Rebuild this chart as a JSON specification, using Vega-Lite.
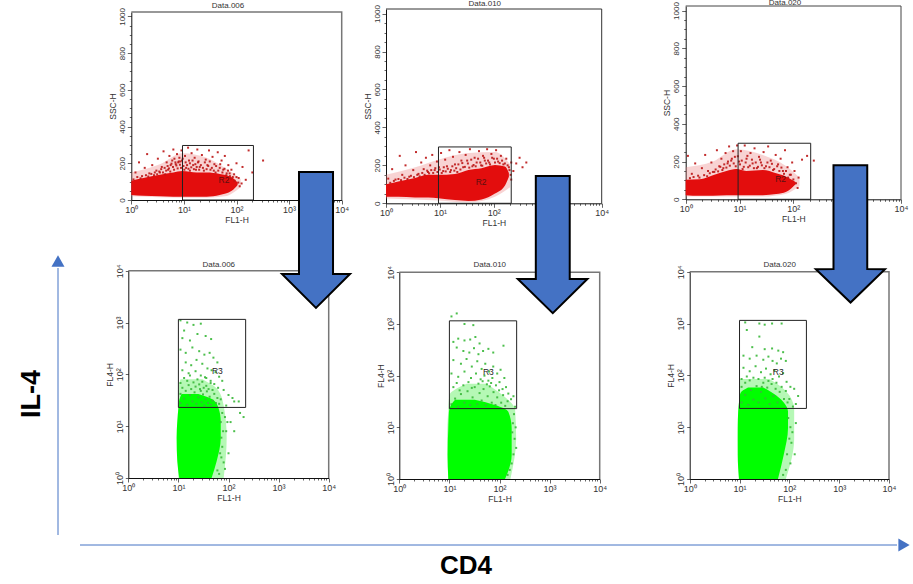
{"$schema":"https://vega.github.io/schema/vega-lite/v6.json","width":913,"height":584,"autosize":"none","padding":0,"background":"white",
"config":{"view":{"stroke":null},"font":"Liberation Sans","axis":{"grid":false,"domainColor":"#111","domainWidth":1,"tickColor":"#222","tickWidth":0.7,"labelColor":"#333","titleColor":"#333","labelFontSize":9,"titleFontSize":8.5,"titleFontWeight":"normal","labelFont":"Liberation Sans","titleFont":"Liberation Sans","labelPadding":1,"titlePadding":1,"labelOverlap":false,"labelFlush":false}},
"datasets":{
"bands":[
{"p":1,"band":"halo","x":1,"y":150,"y2":20},{"p":1,"band":"halo","x":3.5,"y":195,"y2":15},{"p":1,"band":"halo","x":9.3,"y":255,"y2":12},{"p":1,"band":"halo","x":27,"y":230,"y2":12},{"p":1,"band":"halo","x":60,"y":175,"y2":20},{"p":1,"band":"halo","x":120,"y":115,"y2":70},
{"p":1,"band":"core","x":1,"y":105,"y2":27},{"p":1,"band":"core","x":1.69,"y":120,"y2":23},{"p":1,"band":"core","x":3.5,"y":138,"y2":21},{"p":1,"band":"core","x":6.3,"y":150,"y2":18},{"p":1,"band":"core","x":9.3,"y":158,"y2":18},{"p":1,"band":"core","x":17.5,"y":150,"y2":18},{"p":1,"band":"core","x":27,"y":150,"y2":18},{"p":1,"band":"core","x":48,"y":142,"y2":27},{"p":1,"band":"core","x":81,"y":124,"y2":50},{"p":1,"band":"core","x":105,"y":95,"y2":82},
{"p":2,"band":"halo","x":1,"y":150,"y2":25},{"p":2,"band":"halo","x":3.5,"y":190,"y2":20},{"p":2,"band":"halo","x":9.3,"y":230,"y2":15},{"p":2,"band":"halo","x":34,"y":265,"y2":5},{"p":2,"band":"halo","x":105,"y":270,"y2":35},{"p":2,"band":"halo","x":200,"y":205,"y2":85},
{"p":2,"band":"core","x":1,"y":100,"y2":34},{"p":2,"band":"core","x":1.69,"y":115,"y2":34},{"p":2,"band":"core","x":3.45,"y":133,"y2":31},{"p":2,"band":"core","x":6.1,"y":150,"y2":31},{"p":2,"band":"core","x":9.34,"y":150,"y2":26},{"p":2,"band":"core","x":19,"y":155,"y2":17},{"p":2,"band":"core","x":33.7,"y":176,"y2":12},{"p":2,"band":"core","x":59,"y":185,"y2":20},{"p":2,"band":"core","x":105,"y":202,"y2":51},{"p":2,"band":"core","x":161,"y":194,"y2":94},{"p":2,"band":"core","x":190,"y":160,"y2":140},
{"p":3,"band":"halo","x":1,"y":170,"y2":15},{"p":3,"band":"halo","x":3.2,"y":200,"y2":15},{"p":3,"band":"halo","x":8.7,"y":265,"y2":15},{"p":3,"band":"halo","x":27,"y":235,"y2":15},{"p":3,"band":"halo","x":74,"y":175,"y2":30},{"p":3,"band":"halo","x":130,"y":115,"y2":70},
{"p":3,"band":"core","x":1,"y":104,"y2":22},{"p":3,"band":"core","x":1.82,"y":106,"y2":19},{"p":3,"band":"core","x":3.2,"y":128,"y2":19},{"p":3,"band":"core","x":5.7,"y":150,"y2":22},{"p":3,"band":"core","x":8.7,"y":160,"y2":22},{"p":3,"band":"core","x":13.3,"y":150,"y2":22},{"p":3,"band":"core","x":27,"y":155,"y2":22},{"p":3,"band":"core","x":48,"y":138,"y2":28},{"p":3,"band":"core","x":74,"y":120,"y2":40},{"p":3,"band":"core","x":110,"y":92,"y2":80}],
"greens":[
{"p":4,"band":"halo","y":1,"x":10,"x2":80},{"p":4,"band":"halo","y":6,"x":9.5,"x2":92},{"p":4,"band":"halo","y":25,"x":10,"x2":80},{"p":4,"band":"halo","y":50,"x":10,"x2":62},{"p":4,"band":"halo","y":80,"x":11,"x2":30},
{"p":4,"band":"core","y":1,"x":10.4,"x2":46},{"p":4,"band":"core","y":2.1,"x":9.5,"x2":58},{"p":4,"band":"core","y":5.9,"x":9.2,"x2":70},{"p":4,"band":"core","y":12.4,"x":9.5,"x2":70},{"p":4,"band":"core","y":22.3,"x":10,"x2":63},{"p":4,"band":"core","y":32,"x":10.4,"x2":50},{"p":4,"band":"core","y":42,"x":11.6,"x2":25},
{"p":5,"band":"halo","y":1,"x":9.5,"x2":165},{"p":5,"band":"halo","y":6,"x":9,"x2":215},{"p":5,"band":"halo","y":22,"x":9.5,"x2":205},{"p":5,"band":"halo","y":42,"x":10,"x2":115},{"p":5,"band":"halo","y":70,"x":22,"x2":55},
{"p":5,"band":"core","y":1,"x":9.5,"x2":129},{"p":5,"band":"core","y":2.9,"x":9.2,"x2":175},{"p":5,"band":"core","y":9.6,"x":9.5,"x2":175},{"p":5,"band":"core","y":20,"x":9.8,"x2":150},{"p":5,"band":"core","y":27,"x":10.8,"x2":81},{"p":5,"band":"core","y":34,"x":13,"x2":32},
{"p":6,"band":"halo","y":1,"x":9.6,"x2":85},{"p":6,"band":"halo","y":6,"x":9.2,"x2":125},{"p":6,"band":"halo","y":22,"x":9.5,"x2":125},{"p":6,"band":"halo","y":50,"x":10,"x2":85},{"p":6,"band":"halo","y":85,"x":10,"x2":40},
{"p":6,"band":"core","y":1,"x":9.8,"x2":59},{"p":6,"band":"core","y":2.9,"x":9.2,"x2":77},{"p":6,"band":"core","y":9.6,"x":9.2,"x2":94},{"p":6,"band":"core","y":20,"x":9.4,"x2":94},{"p":6,"band":"core","y":31,"x":9.8,"x2":75},{"p":6,"band":"core","y":45,"x":10.4,"x2":47},{"p":6,"band":"core","y":58,"x":14.8,"x2":30}],
"red1":[{"x":1.2,"y":150},{"x":1.4,"y":205},{"x":1.6,"y":130},{"x":1.8,"y":175},{"x":2,"y":250},{"x":2.2,"y":145},{"x":2.5,"y":190},{"x":2.7,"y":135},{"x":3,"y":160},{"x":3.2,"y":225},{"x":3.5,"y":150},{"x":3.8,"y":180},{"x":4.1,"y":265},{"x":4.4,"y":140},{"x":4.7,"y":205},{"x":5,"y":165},{"x":5.3,"y":240},{"x":5.6,"y":190},{"x":6,"y":215},{"x":6.3,"y":275},{"x":6.6,"y":225},{"x":7,"y":195},{"x":7.4,"y":250},{"x":7.8,"y":205},{"x":8.2,"y":230},{"x":8.6,"y":210},{"x":9,"y":270},{"x":9.5,"y":225},{"x":10.5,"y":240},{"x":11,"y":175},{"x":12,"y":285},{"x":12.5,"y":215},{"x":13,"y":160},{"x":14,"y":255},{"x":15,"y":190},{"x":16,"y":230},{"x":17,"y":165},{"x":18,"y":275},{"x":19,"y":210},{"x":20,"y":180},{"x":22,"y":245},{"x":24,"y":160},{"x":26,"y":220},{"x":28,"y":190},{"x":30,"y":270},{"x":32,"y":165},{"x":35,"y":235},{"x":38,"y":195},{"x":40,"y":150},{"x":44,"y":260},{"x":48,"y":175},{"x":52,"y":215},{"x":56,"y":165},{"x":60,"y":240},{"x":65,"y":145},{"x":70,"y":190},{"x":75,"y":130},{"x":80,"y":165},{"x":90,"y":140},{"x":100,"y":200},{"x":110,"y":120},{"x":130,"y":180},{"x":150,"y":110},{"x":170,"y":270},{"x":200,"y":150},{"x":320,"y":215},{"x":1.1,"y":112},{"x":1.3,"y":125},{"x":1.5,"y":118},{"x":1.9,"y":135},{"x":2.1,"y":128},{"x":2.4,"y":142},{"x":2.8,"y":150},{"x":3.1,"y":140},{"x":3.4,"y":155},{"x":3.7,"y":168},{"x":4,"y":150},{"x":4.3,"y":175},{"x":4.6,"y":160},{"x":4.9,"y":185},{"x":5.2,"y":172},{"x":5.5,"y":155},{"x":5.8,"y":198},{"x":6.2,"y":180},{"x":6.5,"y":165},{"x":6.9,"y":205},{"x":7.2,"y":188},{"x":7.6,"y":172},{"x":8,"y":210},{"x":8.4,"y":192},{"x":8.8,"y":175},{"x":9.2,"y":215},{"x":9.8,"y":185},{"x":10.2,"y":165},{"x":10.8,"y":205},{"x":11.5,"y":190},{"x":12.2,"y":170},{"x":13,"y":200},{"x":13.8,"y":178},{"x":14.6,"y":215},{"x":15.5,"y":168},{"x":16.5,"y":195},{"x":17.5,"y":180},{"x":18.5,"y":205},{"x":19.5,"y":165},{"x":21,"y":190},{"x":23,"y":175},{"x":25,"y":205},{"x":27,"y":168},{"x":29,"y":185},{"x":31,"y":210},{"x":34,"y":175},{"x":37,"y":160},{"x":41,"y":185},{"x":45,"y":160},{"x":49,"y":195},{"x":54,"y":150},{"x":59,"y":170},{"x":64,"y":135},{"x":69,"y":160},{"x":74,"y":145},{"x":79,"y":115},{"x":85,"y":125},{"x":92,"y":105},{"x":100,"y":125},{"x":108,"y":95},{"x":115,"y":75},{"x":125,"y":90}],
"red2":[{"x":1.1,"y":130},{"x":1.3,"y":180},{"x":1.5,"y":125},{"x":1.8,"y":250},{"x":2,"y":150},{"x":2.3,"y":200},{"x":2.7,"y":140},{"x":3.2,"y":175},{"x":3.6,"y":270},{"x":4,"y":155},{"x":4.5,"y":215},{"x":5,"y":180},{"x":5.5,"y":240},{"x":6,"y":165},{"x":6.6,"y":200},{"x":7.2,"y":255},{"x":8,"y":175},{"x":8.8,"y":220},{"x":9.6,"y":190},{"x":10.5,"y":265},{"x":11.5,"y":170},{"x":12.5,"y":230},{"x":13.5,"y":195},{"x":15,"y":280},{"x":16,"y":175},{"x":17.5,"y":245},{"x":19,"y":205},{"x":21,"y":165},{"x":23,"y":270},{"x":25,"y":225},{"x":27,"y":190},{"x":30,"y":255},{"x":33,"y":210},{"x":36,"y":285},{"x":40,"y":195},{"x":44,"y":240},{"x":48,"y":215},{"x":53,"y":275},{"x":58,"y":200},{"x":63,"y":250},{"x":68,"y":225},{"x":75,"y":285},{"x":82,"y":215},{"x":90,"y":260},{"x":100,"y":235},{"x":110,"y":280},{"x":120,"y":220},{"x":135,"y":250},{"x":150,"y":205},{"x":170,"y":235},{"x":190,"y":190},{"x":210,"y":215},{"x":230,"y":170},{"x":260,"y":210},{"x":300,"y":240},{"x":340,"y":190},{"x":400,"y":215},{"x":1.2,"y":108},{"x":1.4,"y":118},{"x":1.7,"y":128},{"x":1.9,"y":122},{"x":2.2,"y":135},{"x":2.5,"y":128},{"x":2.9,"y":145},{"x":3.3,"y":138},{"x":3.8,"y":150},{"x":4.2,"y":142},{"x":4.7,"y":160},{"x":5.2,"y":150},{"x":5.8,"y":172},{"x":6.3,"y":158},{"x":6.9,"y":175},{"x":7.5,"y":160},{"x":8.2,"y":185},{"x":9,"y":165},{"x":9.9,"y":178},{"x":10.8,"y":160},{"x":11.8,"y":190},{"x":12.8,"y":168},{"x":14,"y":182},{"x":15.5,"y":165},{"x":17,"y":195},{"x":18.5,"y":172},{"x":20,"y":185},{"x":22,"y":205},{"x":24,"y":178},{"x":26,"y":212},{"x":29,"y":192},{"x":32,"y":225},{"x":35,"y":188},{"x":38,"y":230},{"x":42,"y":202},{"x":46,"y":195},{"x":51,"y":235},{"x":56,"y":215},{"x":61,"y":198},{"x":66,"y":240},{"x":72,"y":210},{"x":78,"y":225},{"x":85,"y":205},{"x":93,"y":240},{"x":105,"y":215},{"x":115,"y":235},{"x":128,"y":212},{"x":142,"y":225},{"x":160,"y":210},{"x":180,"y":200},{"x":195,"y":175},{"x":205,"y":150},{"x":210,"y":125}],
"red3":[{"x":1.1,"y":230},{"x":1.3,"y":135},{"x":1.5,"y":190},{"x":1.7,"y":125},{"x":2,"y":165},{"x":2.3,"y":235},{"x":2.6,"y":150},{"x":3,"y":195},{"x":3.4,"y":145},{"x":3.8,"y":260},{"x":4.2,"y":175},{"x":4.6,"y":215},{"x":5,"y":165},{"x":5.5,"y":245},{"x":6,"y":190},{"x":6.4,"y":280},{"x":7,"y":205},{"x":7.6,"y":255},{"x":8.2,"y":225},{"x":9,"y":285},{"x":9.8,"y":200},{"x":10.6,"y":255},{"x":11.4,"y":160},{"x":12.5,"y":285},{"x":13.5,"y":215},{"x":14.5,"y":170},{"x":16,"y":245},{"x":17.5,"y":190},{"x":19,"y":270},{"x":21,"y":165},{"x":23,"y":225},{"x":25,"y":195},{"x":28,"y":250},{"x":31,"y":175},{"x":34,"y":280},{"x":38,"y":205},{"x":42,"y":155},{"x":47,"y":235},{"x":52,"y":185},{"x":58,"y":215},{"x":64,"y":150},{"x":70,"y":260},{"x":78,"y":170},{"x":86,"y":130},{"x":95,"y":195},{"x":105,"y":150},{"x":125,"y":115},{"x":145,"y":210},{"x":180,"y":230},{"x":240,"y":205},{"x":1.2,"y":112},{"x":1.4,"y":118},{"x":1.8,"y":115},{"x":2.2,"y":128},{"x":2.5,"y":122},{"x":2.8,"y":138},{"x":3.2,"y":145},{"x":3.6,"y":158},{"x":4,"y":148},{"x":4.4,"y":172},{"x":4.8,"y":155},{"x":5.2,"y":185},{"x":5.7,"y":168},{"x":6.1,"y":200},{"x":6.6,"y":178},{"x":7.2,"y":215},{"x":7.8,"y":190},{"x":8.5,"y":175},{"x":9.3,"y":228},{"x":10.2,"y":185},{"x":11,"y":205},{"x":12,"y":172},{"x":13,"y":195},{"x":14,"y":230},{"x":15.5,"y":178},{"x":17,"y":210},{"x":18.5,"y":165},{"x":20,"y":195},{"x":22,"y":172},{"x":24,"y":210},{"x":26,"y":180},{"x":29,"y":165},{"x":33,"y":195},{"x":36,"y":170},{"x":40,"y":188},{"x":44,"y":160},{"x":50,"y":175},{"x":55,"y":150},{"x":60,"y":168},{"x":67,"y":135},{"x":73,"y":150},{"x":80,"y":115},{"x":90,"y":130},{"x":100,"y":105},{"x":112,"y":85},{"x":120,"y":60}],
"green4":[{"x":11,"y":1100},{"x":13,"y":700},{"x":15,"y":1000},{"x":20,"y":900},{"x":28,"y":950},{"x":12,"y":500},{"x":17,"y":450},{"x":24,"y":600},{"x":35,"y":550},{"x":45,"y":480},{"x":11,"y":300},{"x":14,"y":260},{"x":19,"y":330},{"x":26,"y":280},{"x":33,"y":240},{"x":42,"y":260},{"x":50,"y":210},{"x":60,"y":170},{"x":14,"y":170},{"x":18,"y":150},{"x":23,"y":190},{"x":30,"y":160},{"x":38,"y":130},{"x":46,"y":120},{"x":55,"y":110},{"x":65,"y":90},{"x":75,"y":75},{"x":12,"y":120},{"x":16,"y":105},{"x":22,"y":115},{"x":28,"y":95},{"x":36,"y":85},{"x":44,"y":75},{"x":52,"y":65},{"x":62,"y":55},{"x":80,"y":50},{"x":100,"y":40},{"x":120,"y":35},{"x":160,"y":30},{"x":200,"y":15},{"x":90,"y":25},{"x":110,"y":12},{"x":130,"y":8},{"x":90,"y":8},{"x":75,"y":4},{"x":80,"y":2},{"x":85,"y":1.5},{"x":100,"y":3},{"x":170,"y":18},{"x":130,"y":30},{"x":11,"y":28},{"x":13,"y":34},{"x":15,"y":26},{"x":17,"y":40},{"x":19,"y":30},{"x":21,"y":45},{"x":23,"y":27},{"x":25,"y":36},{"x":27,"y":52},{"x":29,"y":29},{"x":31,"y":41},{"x":33,"y":25},{"x":35,"y":33},{"x":37,"y":47},{"x":39,"y":28},{"x":42,"y":37},{"x":45,"y":26},{"x":48,"y":31},{"x":52,"y":42},{"x":56,"y":28},{"x":60,"y":35},{"x":65,"y":27},{"x":70,"y":33},{"x":11,"y":42},{"x":12,"y":55},{"x":14,"y":48},{"x":16,"y":62},{"x":18,"y":52},{"x":20,"y":70},{"x":22,"y":58},{"x":24,"y":80},{"x":26,"y":64},{"x":28,"y":48},{"x":30,"y":72},{"x":32,"y":55},{"x":34,"y":88},{"x":36,"y":60},{"x":40,"y":52},{"x":44,"y":68},{"x":48,"y":50},{"x":11,"y":68},{"x":13,"y":85},{"x":15,"y":75},{"x":17,"y":95},{"x":70,"y":12},{"x":78,"y":8},{"x":85,"y":15},{"x":72,"y":6},{"x":68,"y":3},{"x":75,"y":18},{"x":95,"y":12},{"x":60,"y":1.4},{"x":72,"y":2.5},{"x":65,"y":1.2}],
"green5":[{"x":14,"y":1600},{"x":11,"y":1400},{"x":20,"y":1000},{"x":30,"y":950},{"x":12,"y":450},{"x":15,"y":520},{"x":20,"y":480},{"x":26,"y":500},{"x":33,"y":560},{"x":40,"y":420},{"x":14,"y":350},{"x":19,"y":300},{"x":25,"y":280},{"x":31,"y":340},{"x":38,"y":260},{"x":47,"y":300},{"x":60,"y":330},{"x":75,"y":280},{"x":120,"y":380},{"x":12,"y":200},{"x":17,"y":170},{"x":22,"y":210},{"x":28,"y":150},{"x":36,"y":190},{"x":44,"y":135},{"x":52,"y":170},{"x":62,"y":120},{"x":75,"y":150},{"x":90,"y":110},{"x":105,"y":130},{"x":125,"y":90},{"x":11,"y":110},{"x":15,"y":95},{"x":20,"y":120},{"x":27,"y":90},{"x":34,"y":110},{"x":42,"y":85},{"x":50,"y":100},{"x":60,"y":80},{"x":72,"y":90},{"x":85,"y":65},{"x":100,"y":75},{"x":115,"y":55},{"x":135,"y":60},{"x":150,"y":45},{"x":170,"y":35},{"x":190,"y":40},{"x":205,"y":25},{"x":210,"y":10},{"x":215,"y":4},{"x":11,"y":28},{"x":13,"y":36},{"x":15,"y":25},{"x":17,"y":44},{"x":20,"y":30},{"x":23,"y":50},{"x":26,"y":27},{"x":29,"y":38},{"x":32,"y":60},{"x":36,"y":28},{"x":40,"y":46},{"x":44,"y":33},{"x":48,"y":55},{"x":53,"y":27},{"x":58,"y":40},{"x":64,"y":62},{"x":70,"y":30},{"x":76,"y":48},{"x":83,"y":27},{"x":90,"y":38},{"x":98,"y":52},{"x":108,"y":30},{"x":118,"y":42},{"x":130,"y":26},{"x":145,"y":32},{"x":12,"y":60},{"x":14,"y":72},{"x":16,"y":52},{"x":19,"y":65},{"x":24,"y":75},{"x":28,"y":58},{"x":38,"y":70},{"x":46,"y":78},{"x":56,"y":68},{"x":68,"y":72},{"x":190,"y":3},{"x":200,"y":6},{"x":185,"y":12},{"x":195,"y":18},{"x":175,"y":2},{"x":160,"y":1.5},{"x":145,"y":1.2},{"x":180,"y":8}],
"green6":[{"x":13,"y":1050},{"x":25,"y":1000},{"x":32,"y":950},{"x":45,"y":1000},{"x":70,"y":1000},{"x":14,"y":750},{"x":25,"y":560},{"x":18,"y":350},{"x":32,"y":320},{"x":45,"y":330},{"x":60,"y":300},{"x":75,"y":280},{"x":12,"y":240},{"x":16,"y":210},{"x":22,"y":240},{"x":30,"y":200},{"x":38,"y":230},{"x":46,"y":190},{"x":56,"y":170},{"x":68,"y":210},{"x":85,"y":190},{"x":12,"y":140},{"x":16,"y":120},{"x":21,"y":150},{"x":27,"y":115},{"x":34,"y":135},{"x":42,"y":105},{"x":50,"y":125},{"x":62,"y":95},{"x":75,"y":110},{"x":88,"y":75},{"x":105,"y":60},{"x":125,"y":55},{"x":150,"y":40},{"x":135,"y":28},{"x":100,"y":35},{"x":118,"y":25},{"x":135,"y":12},{"x":115,"y":8},{"x":110,"y":5},{"x":105,"y":2},{"x":128,"y":3},{"x":11,"y":30},{"x":13,"y":42},{"x":15,"y":27},{"x":17,"y":52},{"x":19,"y":34},{"x":22,"y":62},{"x":24,"y":30},{"x":27,"y":48},{"x":30,"y":72},{"x":33,"y":36},{"x":36,"y":58},{"x":40,"y":28},{"x":44,"y":68},{"x":48,"y":40},{"x":53,"y":55},{"x":58,"y":30},{"x":64,"y":48},{"x":70,"y":60},{"x":78,"y":35},{"x":85,"y":50},{"x":92,"y":30},{"x":11,"y":60},{"x":11,"y":85},{"x":13,"y":72},{"x":14,"y":95},{"x":16,"y":80},{"x":19,"y":90},{"x":24,"y":85},{"x":28,"y":60},{"x":32,"y":90},{"x":38,"y":78},{"x":46,"y":85},{"x":55,"y":72},{"x":95,"y":15},{"x":105,"y":10},{"x":100,"y":6},{"x":90,"y":3},{"x":85,"y":1.5},{"x":75,"y":1.2}]
},
"layer":[
{"encoding":{"x":{"field":"x","type":"quantitative","scale":{"domain":[0,913],"range":[0,913]},"axis":null},"y":{"field":"y","type":"quantitative","scale":{"domain":[0,584],"range":[0,584]},"axis":null}},
"layer":[
{"data":{"values":[{"x":80,"x2":897,"y":545}]},"mark":{"type":"rule","color":"#4472c4","strokeWidth":1},"encoding":{"x2":{"field":"x2"}}},
{"data":{"values":[{"x":58,"y":535,"y2":268}]},"mark":{"type":"rule","color":"#4472c4","strokeWidth":1},"encoding":{"y2":{"field":"y2"}}},
{"data":{"values":[{"x":904,"y":545}]},"mark":{"type":"point","shape":"triangle-right","filled":true,"opacity":1,"color":"#4472c4","size":170}},
{"data":{"values":[{"x":58,"y":261}]},"mark":{"type":"point","shape":"triangle-up","filled":true,"opacity":1,"color":"#4472c4","size":170}},
{"data":{"values":[{"x":466,"y":566,"t":"CD4"}]},"mark":{"type":"text","font":"Liberation Sans","fontWeight":"bold","fontSize":26,"color":"#000"},"encoding":{"text":{"field":"t"}}},
{"data":{"values":[{"x":32,"y":394,"t":"IL-4"}]},"mark":{"type":"text","font":"Liberation Sans","fontWeight":"bold","fontSize":27,"angle":270,"color":"#000"},"encoding":{"text":{"field":"t"}}}
]},

{"encoding":{"x":{"field":"x","type":"quantitative","scale":{"type":"log","domain":[1,10000],"range":[128.3,328.7]},"axis":{"orient":"bottom","offset":-106,"title":"FL1-H","values":[1,2,3,4,5,6,7,8,9,10,20,30,40,50,60,70,80,90,100,200,300,400,500,600,700,800,900,1000,2000,3000,4000,5000,6000,7000,8000,9000,10000],"labelExpr":"datum.value==1?'10⁰':datum.value==10?'10¹':datum.value==100?'10²':datum.value==1000?'10³':datum.value==10000?'10⁴':''","tickSize":{"condition":{"test":"indexof([1,10,100,1000,10000],datum.value)>=0","value":4},"value":2}}},
"y":{"field":"y","type":"quantitative","scale":{"type":"log","domain":[1,10000],"range":[478,270.7]},"axis":{"orient":"left","offset":-128.3,"title":"FL4-H","values":[1,10,100,1000,10000],"labelAngle":270,"labelExpr":"datum.value==1?'10⁰':datum.value==10?'10¹':datum.value==100?'10²':datum.value==1000?'10³':'10⁴'","tickSize":3}}},
"layer":[
{"data":{"name":"greens"},"transform":[{"filter":"datum.p==4&&datum.band=='halo'"}],"mark":{"type":"area","orient":"horizontal","interpolate":"monotone","color":"#5cf05c","opacity":0.45},"encoding":{"x2":{"field":"x2"}}},
{"data":{"name":"greens"},"transform":[{"filter":"datum.p==4&&datum.band=='core'"}],"mark":{"type":"area","orient":"horizontal","interpolate":"monotone","color":"#00ff00"},"encoding":{"x2":{"field":"x2"}}},
{"data":{"name":"green4"},"mark":{"type":"square","size":4,"color":"#38b838","opacity":0.9}},
{"data":{"values":[{"x":1,"y":10000},{"x":10000,"y":10000},{"x":10000,"y":1}]},"mark":{"type":"line","color":"#777","strokeWidth":1.5}},
{"data":{"values":[{"x":10,"x2":220,"y":23,"y2":1150}]},"mark":{"type":"rect","fill":null,"stroke":"#222","strokeWidth":1},"encoding":{"x2":{"field":"x2"},"y2":{"field":"y2"}}},
{"data":{"values":[{"x":60,"y":118,"t":"R3"}]},"mark":{"type":"text","fontSize":8.5,"color":"#222"},"encoding":{"text":{"field":"t"}}},
{"data":{"values":[{"x":64,"y":10000,"t":"Data.006"}]},"mark":{"type":"text","fontSize":8,"dy":-6,"color":"#333"},"encoding":{"text":{"field":"t"}}}
]},

{"encoding":{"x":{"field":"x","type":"quantitative","scale":{"type":"log","domain":[1,10000],"range":[399.3,599.7]},"axis":{"orient":"bottom","offset":-105,"title":"FL1-H","values":[1,2,3,4,5,6,7,8,9,10,20,30,40,50,60,70,80,90,100,200,300,400,500,600,700,800,900,1000,2000,3000,4000,5000,6000,7000,8000,9000,10000],"labelExpr":"datum.value==1?'10⁰':datum.value==10?'10¹':datum.value==100?'10²':datum.value==1000?'10³':datum.value==10000?'10⁴':''","tickSize":{"condition":{"test":"indexof([1,10,100,1000,10000],datum.value)>=0","value":4},"value":2}}},
"y":{"field":"y","type":"quantitative","scale":{"type":"log","domain":[1,10000],"range":[479,272.3]},"axis":{"orient":"left","offset":-399.3,"title":"FL4-H","values":[1,10,100,1000,10000],"labelAngle":270,"labelExpr":"datum.value==1?'10⁰':datum.value==10?'10¹':datum.value==100?'10²':datum.value==1000?'10³':'10⁴'","tickSize":3}}},
"layer":[
{"data":{"name":"greens"},"transform":[{"filter":"datum.p==5&&datum.band=='halo'"}],"mark":{"type":"area","orient":"horizontal","interpolate":"monotone","color":"#5cf05c","opacity":0.45},"encoding":{"x2":{"field":"x2"}}},
{"data":{"name":"greens"},"transform":[{"filter":"datum.p==5&&datum.band=='core'"}],"mark":{"type":"area","orient":"horizontal","interpolate":"monotone","color":"#00ff00"},"encoding":{"x2":{"field":"x2"}}},
{"data":{"name":"green5"},"mark":{"type":"square","size":4,"color":"#38b838","opacity":0.9}},
{"data":{"values":[{"x":1,"y":10000},{"x":10000,"y":10000},{"x":10000,"y":1}]},"mark":{"type":"line","color":"#777","strokeWidth":1.5}},
{"data":{"values":[{"x":10,"x2":220,"y":23,"y2":1150}]},"mark":{"type":"rect","fill":null,"stroke":"#222","strokeWidth":1},"encoding":{"x2":{"field":"x2"},"y2":{"field":"y2"}}},
{"data":{"values":[{"x":60,"y":118,"t":"R3"}]},"mark":{"type":"text","fontSize":8.5,"color":"#222"},"encoding":{"text":{"field":"t"}}},
{"data":{"values":[{"x":64,"y":10000,"t":"Data.010"}]},"mark":{"type":"text","fontSize":8,"dy":-7,"color":"#333"},"encoding":{"text":{"field":"t"}}}
]},

{"encoding":{"x":{"field":"x","type":"quantitative","scale":{"type":"log","domain":[1,10000],"range":[689.7,889]},"axis":{"orient":"bottom","offset":-105,"title":"FL1-H","values":[1,2,3,4,5,6,7,8,9,10,20,30,40,50,60,70,80,90,100,200,300,400,500,600,700,800,900,1000,2000,3000,4000,5000,6000,7000,8000,9000,10000],"labelExpr":"datum.value==1?'10⁰':datum.value==10?'10¹':datum.value==100?'10²':datum.value==1000?'10³':datum.value==10000?'10⁴':''","tickSize":{"condition":{"test":"indexof([1,10,100,1000,10000],datum.value)>=0","value":4},"value":2}}},
"y":{"field":"y","type":"quantitative","scale":{"type":"log","domain":[1,10000],"range":[479,271.7]},"axis":{"orient":"left","offset":-689.7,"title":"FL4-H","values":[1,10,100,1000,10000],"labelAngle":270,"labelExpr":"datum.value==1?'10⁰':datum.value==10?'10¹':datum.value==100?'10²':datum.value==1000?'10³':'10⁴'","tickSize":3}}},
"layer":[
{"data":{"name":"greens"},"transform":[{"filter":"datum.p==6&&datum.band=='halo'"}],"mark":{"type":"area","orient":"horizontal","interpolate":"monotone","color":"#5cf05c","opacity":0.45},"encoding":{"x2":{"field":"x2"}}},
{"data":{"name":"greens"},"transform":[{"filter":"datum.p==6&&datum.band=='core'"}],"mark":{"type":"area","orient":"horizontal","interpolate":"monotone","color":"#00ff00"},"encoding":{"x2":{"field":"x2"}}},
{"data":{"name":"green6"},"mark":{"type":"square","size":4,"color":"#38b838","opacity":0.9}},
{"data":{"values":[{"x":1,"y":10000},{"x":10000,"y":10000},{"x":10000,"y":1}]},"mark":{"type":"line","color":"#777","strokeWidth":1.5}},
{"data":{"values":[{"x":10,"x2":220,"y":23,"y2":1150}]},"mark":{"type":"rect","fill":null,"stroke":"#222","strokeWidth":1},"encoding":{"x2":{"field":"x2"},"y2":{"field":"y2"}}},
{"data":{"values":[{"x":60,"y":118,"t":"R3"}]},"mark":{"type":"text","fontSize":8.5,"color":"#222"},"encoding":{"text":{"field":"t"}}},
{"data":{"values":[{"x":64,"y":10000,"t":"Data.020"}]},"mark":{"type":"text","fontSize":8,"dy":-7,"color":"#333"},"encoding":{"text":{"field":"t"}}}
]},

{"encoding":{"x":{"field":"x","type":"quantitative","scale":{"type":"log","domain":[1,10000],"range":[131.3,341.7]},"axis":{"orient":"bottom","offset":-384,"title":"FL1-H","values":[1,2,3,4,5,6,7,8,9,10,20,30,40,50,60,70,80,90,100,200,300,400,500,600,700,800,900,1000,2000,3000,4000,5000,6000,7000,8000,9000,10000],"labelExpr":"datum.value==1?'10⁰':datum.value==10?'10¹':datum.value==100?'10²':datum.value==1000?'10³':datum.value==10000?'10⁴':''","tickSize":{"condition":{"test":"indexof([1,10,100,1000,10000],datum.value)>=0","value":4},"value":2}}},
"y":{"field":"y","type":"quantitative","scale":{"domain":[0,1024],"nice":false,"zero":false,"range":[200,12]},"axis":{"orient":"left","offset":-131.3,"title":"SSC-H","values":[0,50,100,150,200,250,300,350,400,450,500,550,600,650,700,750,800,850,900,950,1000],"labelAngle":270,"labelFontSize":8,"labelExpr":"datum.value%200==0?datum.value:''","tickSize":{"condition":{"test":"datum.value%200==0","value":4},"value":2}}}},
"layer":[
{"data":{"name":"bands"},"transform":[{"filter":"datum.p==1&&datum.band=='halo'"}],"mark":{"type":"area","orient":"vertical","interpolate":"monotone","color":"#ea8080","opacity":0.35},"encoding":{"y2":{"field":"y2"}}},
{"data":{"name":"bands"},"transform":[{"filter":"datum.p==1&&datum.band=='core'"}],"mark":{"type":"area","orient":"vertical","interpolate":"monotone","color":"#e30d0d"},"encoding":{"y2":{"field":"y2"}}},
{"data":{"name":"red1"},"mark":{"type":"square","size":4,"color":"#bb1515","opacity":0.9}},
{"data":{"values":[{"x":1,"y":1024},{"x":10000,"y":1024},{"x":10000,"y":0}]},"mark":{"type":"line","color":"#777","strokeWidth":1.5}},
{"data":{"values":[{"x":9.4,"x2":210,"y":0,"y2":297}]},"mark":{"type":"rect","fill":null,"stroke":"#222","strokeWidth":1},"encoding":{"x2":{"field":"x2"},"y2":{"field":"y2"}}},
{"data":{"values":[{"x":58,"y":108,"t":"R2"}]},"mark":{"type":"text","fontSize":8.5,"color":"#5a1010"},"encoding":{"text":{"field":"t"}}},
{"data":{"values":[{"x":69,"y":1024,"t":"Data.006"}]},"mark":{"type":"text","fontSize":8,"dy":-6,"color":"#333"},"encoding":{"text":{"field":"t"}}},
{"data":{"values":[{"x":3243,"y":-588,"x2":3243},{"x":733,"y":-403,"x2":14390},{"x":1542,"y":-402.9,"x2":6839},{"x":1542,"y":153,"x2":6839}]},"mark":{"type":"area","orient":"horizontal","color":"#4472c4","stroke":"#000","strokeWidth":2},"encoding":{"x2":{"field":"x2"}}}
]},

{"encoding":{"x":{"field":"x","type":"quantitative","scale":{"type":"log","domain":[1,10000],"range":[386,601.7]},"axis":{"orient":"bottom","offset":-380.7,"title":"FL1-H","values":[1,2,3,4,5,6,7,8,9,10,20,30,40,50,60,70,80,90,100,200,300,400,500,600,700,800,900,1000,2000,3000,4000,5000,6000,7000,8000,9000,10000],"labelExpr":"datum.value==1?'10⁰':datum.value==10?'10¹':datum.value==100?'10²':datum.value==1000?'10³':datum.value==10000?'10⁴':''","tickSize":{"condition":{"test":"indexof([1,10,100,1000,10000],datum.value)>=0","value":4},"value":2}}},
"y":{"field":"y","type":"quantitative","scale":{"domain":[0,1024],"nice":false,"zero":false,"range":[203.3,9]},"axis":{"orient":"left","offset":-386,"title":"SSC-H","values":[0,50,100,150,200,250,300,350,400,450,500,550,600,650,700,750,800,850,900,950,1000],"labelAngle":270,"labelFontSize":8,"labelExpr":"datum.value%200==0?datum.value:''","tickSize":{"condition":{"test":"datum.value%200==0","value":4},"value":2}}}},
"layer":[
{"data":{"name":"bands"},"transform":[{"filter":"datum.p==2&&datum.band=='halo'"}],"mark":{"type":"area","orient":"vertical","interpolate":"monotone","color":"#ea8080","opacity":0.35},"encoding":{"y2":{"field":"y2"}}},
{"data":{"name":"bands"},"transform":[{"filter":"datum.p==2&&datum.band=='core'"}],"mark":{"type":"area","orient":"vertical","interpolate":"monotone","color":"#e30d0d"},"encoding":{"y2":{"field":"y2"}}},
{"data":{"name":"red2"},"mark":{"type":"square","size":4,"color":"#bb1515","opacity":0.9}},
{"data":{"values":[{"x":1,"y":1024},{"x":10000,"y":1024},{"x":10000,"y":0}]},"mark":{"type":"line","color":"#333","strokeWidth":1}},
{"data":{"values":[{"x":9.4,"x2":210,"y":0,"y2":297}]},"mark":{"type":"rect","fill":null,"stroke":"#222","strokeWidth":1},"encoding":{"x2":{"field":"x2"},"y2":{"field":"y2"}}},
{"data":{"values":[{"x":58,"y":112,"t":"R2"}]},"mark":{"type":"text","fontSize":8.5,"color":"#5a1010"},"encoding":{"text":{"field":"t"}}},
{"data":{"values":[{"x":68,"y":1024,"t":"Data.010"}]},"mark":{"type":"text","fontSize":8,"dy":-5,"color":"#333"},"encoding":{"text":{"field":"t"}}},
{"data":{"values":[{"x":1238,"y":-579,"x2":1238},{"x":278,"y":-399,"x2":5433},{"x":600,"y":-398.9,"x2":2553},{"x":600,"y":144,"x2":2553}]},"mark":{"type":"area","orient":"horizontal","color":"#4472c4","stroke":"#000","strokeWidth":2},"encoding":{"x2":{"field":"x2"}}}
]},

{"encoding":{"x":{"field":"x","type":"quantitative","scale":{"type":"log","domain":[1,10000],"range":[685.7,901]},"axis":{"orient":"bottom","offset":-384.7,"title":"FL1-H","values":[1,2,3,4,5,6,7,8,9,10,20,30,40,50,60,70,80,90,100,200,300,400,500,600,700,800,900,1000,2000,3000,4000,5000,6000,7000,8000,9000,10000],"labelExpr":"datum.value==1?'10⁰':datum.value==10?'10¹':datum.value==100?'10²':datum.value==1000?'10³':datum.value==10000?'10⁴':''","tickSize":{"condition":{"test":"indexof([1,10,100,1000,10000],datum.value)>=0","value":4},"value":2}}},
"y":{"field":"y","type":"quantitative","scale":{"domain":[0,1024],"nice":false,"zero":false,"range":[199.3,6]},"axis":{"orient":"left","offset":-685.7,"title":"SSC-H","values":[0,50,100,150,200,250,300,350,400,450,500,550,600,650,700,750,800,850,900,950,1000],"labelAngle":270,"labelFontSize":8,"labelExpr":"datum.value%200==0?datum.value:''","tickSize":{"condition":{"test":"datum.value%200==0","value":4},"value":2}}}},
"layer":[
{"data":{"name":"bands"},"transform":[{"filter":"datum.p==3&&datum.band=='halo'"}],"mark":{"type":"area","orient":"vertical","interpolate":"monotone","color":"#ea8080","opacity":0.35},"encoding":{"y2":{"field":"y2"}}},
{"data":{"name":"bands"},"transform":[{"filter":"datum.p==3&&datum.band=='core'"}],"mark":{"type":"area","orient":"vertical","interpolate":"monotone","color":"#e30d0d"},"encoding":{"y2":{"field":"y2"}}},
{"data":{"name":"red3"},"mark":{"type":"square","size":4,"color":"#bb1515","opacity":0.9}},
{"data":{"values":[{"x":1,"y":1024},{"x":10000,"y":1024},{"x":10000,"y":0}]},"mark":{"type":"line","color":"#444","strokeWidth":1}},
{"data":{"values":[{"x":9.4,"x2":210,"y":0,"y2":297}]},"mark":{"type":"rect","fill":null,"stroke":"#222","strokeWidth":1},"encoding":{"x2":{"field":"x2"},"y2":{"field":"y2"}}},
{"data":{"values":[{"x":58,"y":107,"t":"R2"}]},"mark":{"type":"text","fontSize":8.5,"color":"#5a1010"},"encoding":{"text":{"field":"t"}}},
{"data":{"values":[{"x":70,"y":1024,"t":"Data.020"}]},"mark":{"type":"text","fontSize":8,"dy":-3,"color":"#333"},"encoding":{"text":{"field":"t"}}},
{"data":{"values":[{"x":1155,"y":-547,"x2":1155},{"x":262,"y":-370,"x2":5035},{"x":557,"y":-369.9,"x2":2360},{"x":557,"y":180,"x2":2360}]},"mark":{"type":"area","orient":"horizontal","color":"#4472c4","stroke":"#000","strokeWidth":2},"encoding":{"x2":{"field":"x2"}}}
]}
],
"resolve":{"scale":{"x":"independent","y":"independent"},"axis":{"x":"independent","y":"independent"}}}
